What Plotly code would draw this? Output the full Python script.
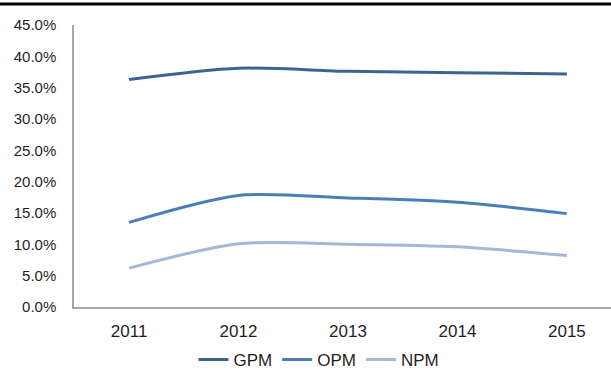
import plotly.graph_objects as go

years = [2011, 2012, 2013, 2014, 2015]
gpm = [36.3, 38.1, 37.6, 37.4, 37.2]
opm = [13.5, 17.8, 17.4, 16.7, 14.9]
npm = [6.2, 10.1, 10.0, 9.6, 8.2]
series_names = ["GPM", "OPM", "NPM"]
colors = ["#3b6496", "#4a7ebb", "#a5b8d8"]
ytick_vals = [0, 5, 10, 15, 20, 25, 30, 35, 40, 45]
ytick_text = [f"{v:.1f}%" for v in ytick_vals]

fig = go.Figure()
for name, vals, c in zip(series_names, [gpm, opm, npm], colors):
    fig.add_trace(go.Scatter(x=years, y=vals, name=name, mode="lines",
                             line=dict(color=c, width=3, shape="spline", smoothing=0.8)))

fam = "Liberation Sans, Arial, sans-serif"
txt = "#1f1f1f"
fig.update_layout(
    width=611, height=372,
    margin=dict(l=74, r=0, t=25, b=65, autoexpand=False),
    paper_bgcolor="white", plot_bgcolor="white",
    font=dict(family=fam, size=15, color=txt),
    showlegend=True,
    legend=dict(orientation="h", xref="container", yref="container",
                x=0.522, xanchor="center", y=12 / 372, yanchor="middle",
                bgcolor="rgba(0,0,0,0)",
                font=dict(family=fam, size=17, color=txt), itemwidth=30, tracegroupgap=0),
    xaxis=dict(range=[2010.497, 2015.403], tickvals=years, ticktext=[str(y) for y in years],
               showgrid=False, zeroline=False, showline=True, linecolor="#a6a6a6", linewidth=2,
               ticks="", ticklabelstandoff=8, tickfont=dict(family=fam, size=17, color=txt),
               fixedrange=True),
    yaxis=dict(range=[0, 45], tickvals=ytick_vals, ticktext=ytick_text,
               showgrid=False, zeroline=False, showline=True, linecolor="#a6a6a6", linewidth=1.5,
               ticks="", ticklabelstandoff=13, tickfont=dict(family=fam, size=15, color=txt),
               fixedrange=True),
)
fig.add_shape(type="line", xref="paper", yref="paper", x0=-74 / 537, x1=1,
              y0=1 + 21 / 282, y1=1 + 21 / 282, line=dict(color="black", width=3))
post = ("document.documentElement.style.overflow='hidden';"
        "document.body.style.overflow='hidden';document.body.style.margin='0';")
fig.write_html("out.html", config={"displayModeBar": False}, post_script=post)
